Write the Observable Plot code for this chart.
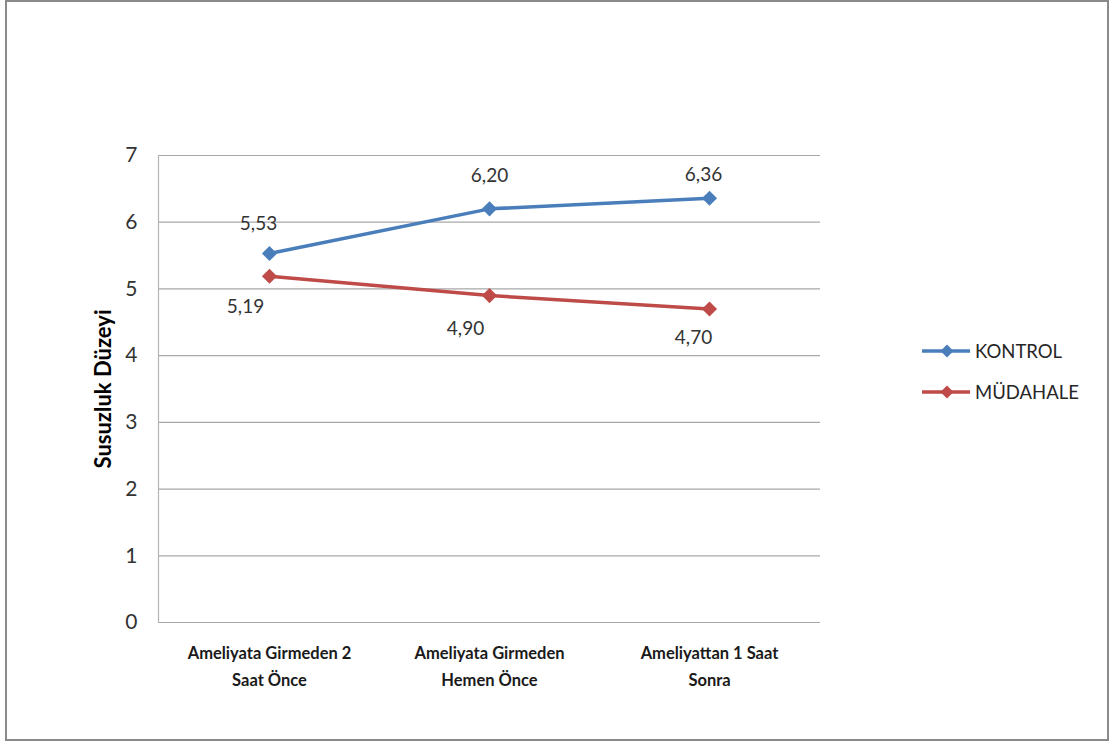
<!DOCTYPE html>
<html>
<head>
<meta charset="utf-8">
<script src="https://cdn.jsdelivr.net/npm/d3@7"></script>
<script src="https://cdn.jsdelivr.net/npm/@observablehq/plot@0.6"></script>
<style>
  html, body { margin: 0; padding: 0; background: #fff; }
  #page { position: relative; width: 1109px; height: 742px; overflow: hidden; font-family: Lato, "DejaVu Sans", sans-serif; }
  #border { position: absolute; left: 5px; top: 0; width: 1100px; height: 737px; border: 2px solid #8a8a8a; }
  #chart { position: absolute; left: 0; top: 0; }
  #legend { position: absolute; left: 921px; top: 330px; font-size: 18.5px; color: #262626; }
  .item { display: flex; align-items: center; height: 41px; }
  .item svg { margin-right: 4px; }
</style>
</head>
<body>
<div id="page">
  <div id="border"></div>
  <div id="chart"></div>
  <div id="legend"></div>
</div>
<script>
// Time points (x categories), two lines each
const categories = [
  "Ameliyata Girmeden 2\nSaat Önce",
  "Ameliyata Girmeden\nHemen Önce",
  "Ameliyattan 1 Saat\nSonra"
];
const seriesNames = ["KONTROL", "MÜDAHALE"];
const kontrol = [5.53, 6.20, 6.36];
const mudahale = [5.19, 4.90, 4.70];
const yTicks = [0, 1, 2, 3, 4, 5, 6, 7];
const colors = ["#4A7EBB", "#BE4B48"];
const yLabel = "Susuzluk Düzeyi";

const rows = [
  ...categories.map((c, i) => ({cat: c, series: seriesNames[0], value: kontrol[i]})),
  ...categories.map((c, i) => ({cat: c, series: seriesNames[1], value: mudahale[i]}))
];
const fmt = v => d3.format(".2f")(v).replace(".", ",");

// Value labels sit above the KONTROL points and below the MÜDAHALE points,
// each nudged a little so it clears the lines.
const nudges = [
  [-11, -30], [0, -33], [-6, -23],
  [-24, 31], [-24, 33], [-16, 29]
];
const valueLabels = rows.map((d, i) =>
  Plot.text([d], {x: "cat", y: "value", text: r => fmt(r.value),
    dx: nudges[i][0], dy: nudges[i][1], fontSize: 19, fill: "#333"})
);

const chart = Plot.plot({
  width: 1109,
  height: 742,
  marginLeft: 158,
  marginRight: 289,
  marginTop: 155,
  marginBottom: 120,
  style: {fontFamily: "Lato, 'DejaVu Sans', sans-serif", background: "transparent"},
  x: {type: "point", domain: categories, padding: 0.5},
  y: {domain: [0, 7]},
  color: {domain: seriesNames, range: colors},
  marks: [
    Plot.gridY(yTicks, {stroke: "#a8a8a8", strokeOpacity: 1, strokeWidth: 1.2}),
    Plot.frame({anchor: "left", stroke: "#b4b4b4", strokeWidth: 1.2}),
    Plot.axisY(yTicks, {tickSize: 0, tickPadding: 21, fontSize: 21, fill: "#333", tickFormat: d => String(d), label: null}),
    Plot.axisX({tickSize: 0, tickPadding: 18, fontSize: 16.5, fontWeight: "bold", fill: "#1a1a1a", lineHeight: 1.6, label: null}),
    Plot.text([yLabel], {frameAnchor: "left", textAnchor: "middle", dx: -55, rotate: -90, text: d => d, fontSize: 22, fontWeight: "bold", fill: "#000"}),
    Plot.line(rows, {x: "cat", y: "value", z: "series", stroke: "series", strokeWidth: 3.5}),
    Plot.dot(rows, {x: "cat", y: "value", fill: "series", symbol: "diamond2", r: 6.8, stroke: "none"}),
    ...valueLabels
  ]
});
document.getElementById("chart").append(chart);

// Legend: line with diamond marker, then series name
const legend = d3.select("#legend");
seriesNames.forEach((name, i) => {
  const item = legend.append("div").attr("class", "item");
  const svg = item.append("svg").attr("width", 50).attr("height", 16);
  svg.append("line").attr("x1", 1).attr("x2", 49).attr("y1", 8).attr("y2", 8)
    .attr("stroke", colors[i]).attr("stroke-width", 3.5);
  svg.append("path").attr("d", "M26,1.5 L32.5,8 L26,14.5 L19.5,8 Z").attr("fill", colors[i]);
  item.append("span").text(name);
});
</script>
</body>
</html>
